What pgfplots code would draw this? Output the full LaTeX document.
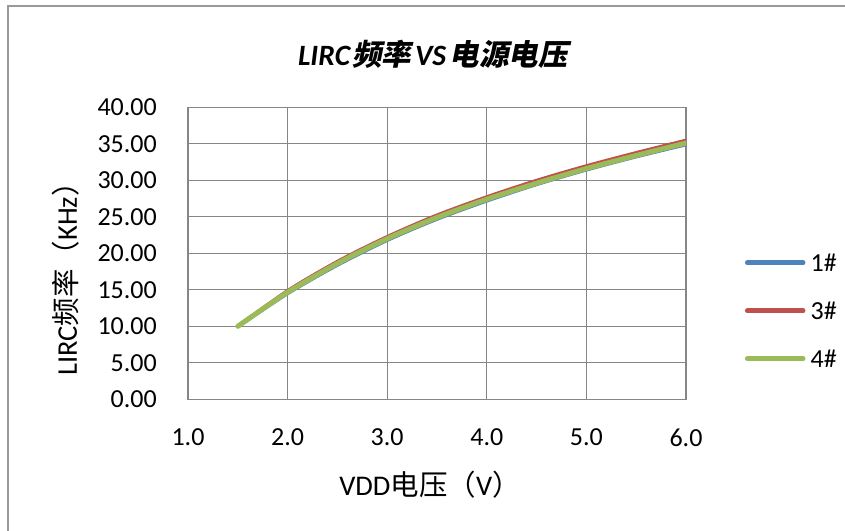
\documentclass[border=0pt]{standalone}
\usepackage{fontspec}
\setmainfont{Carlito}
\newfontfamily\cjk{Noto Sans CJK SC}
\newfontfamily\cjkb[FakeSlant=0.2]{Noto Sans CJK SC Bold}
\usepackage{pgfplots}
\pgfplotsset{compat=1.18}
\definecolor{gridgray}{HTML}{868686}
\definecolor{bordergray}{HTML}{9A9A9A}
\definecolor{s1}{HTML}{4F81BD}
\definecolor{s3}{HTML}{C0504D}
\definecolor{s4}{HTML}{9BBB59}
\begin{document}
\begin{tikzpicture}
\useasboundingbox (0,0) rectangle (845bp,531bp);
\draw[bordergray, line width=1.6bp] (8bp,0) -- (8bp,525bp) -- (845bp,525bp);
\begin{axis}[
  at={(188bp,131.7bp)}, anchor=south west,
  scale only axis, width=498bp, height=292bp,
  xmin=1, xmax=6, ymin=0, ymax=40,
  xtick={1,2,...,6}, ytick={0,5,...,40},
  grid=major,
  major grid style={gridgray, line width=1.2bp},
  axis line style={gridgray, line width=1.2bp},
  major tick length=0pt,
  tick style={draw=none},
  /pgf/number format/assume math mode=true,
  ticklabel style={font=\fontsize{26bp}{30bp}\selectfont, inner sep=0pt},
  yticklabel style={/pgf/number format/.cd, fixed, fixed zerofill, precision=2, /tikz/.cd, anchor=east, xshift=-31bp},
  xticklabel style={/pgf/number format/.cd, fixed, fixed zerofill, precision=1, /tikz/.cd, anchor=north, yshift=-29bp},
  legend cell align=left,
  legend style={draw=none, fill=none, at={(1.112,0.5045)}, anchor=north west,
    font=\fontsize{26bp}{30bp}\selectfont, row sep=31bp,
    nodes={inner sep=0pt, text height=17bp, text depth=0bp}},
  legend image code/.code={\draw[#1, line width=4.5bp, line cap=round] (0bp,0bp) -- (56bp,0bp); \path (61bp,0bp);},
]
\addplot[s1, line width=3bp, smooth, line cap=round] coordinates {
(1.5,9.9) (2.0,14.45) (2.5,18.35) (3.0,21.75) (3.5,24.65) (4.0,27.15) (4.5,29.4) (5.0,31.4) (5.5,33.2) (6.0,34.85)};
\addlegendentry{1\#}
\addplot[s3, line width=3bp, smooth, line cap=round] coordinates {
(1.5,10.05) (2.0,14.9) (2.5,18.9) (3.0,22.3) (3.5,25.25) (4.0,27.75) (4.5,30.0) (5.0,32.0) (5.5,33.8) (6.0,35.5)};
\addlegendentry{3\#}
\addplot[s4, line width=5bp, smooth, line cap=round] coordinates {
(1.5,10.0) (2.0,14.65) (2.5,18.6) (3.0,22.0) (3.5,24.9) (4.0,27.4) (4.5,29.6) (5.0,31.6) (5.5,33.4) (6.0,35.1)};
\addlegendentry{4\#}
\end{axis}
\node[font=\fontsize{29.5bp}{34bp}\selectfont] at (433bp,477bp) {\bfseries\itshape LIRC\kern2bp{\cjkb 频率}\kern4bp VS\kern4bp{\cjkb 电源电压}};
\node[font=\fontsize{28.5bp}{32bp}\selectfont] at (430bp,46bp) {VDD{\cjk 电压（}V{\cjk ）}};
\node[font=\fontsize{28.5bp}{32bp}\selectfont, rotate=90] at (66bp,259bp) {LIRC{\cjk 频率（}KHz{\cjk ）}};
\end{tikzpicture}
\end{document}
